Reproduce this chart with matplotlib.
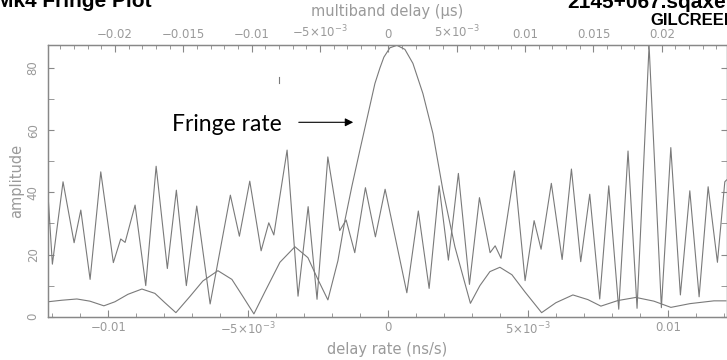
import numpy as np
import matplotlib
matplotlib.use("Agg")
from matplotlib import pyplot as plt
from matplotlib.ticker import MultipleLocator, FixedLocator
from matplotlib.lines import Line2D

plt.rcParams['font.family'] = ['DejaVu Sans']
plt.rcParams['mathtext.default'] = 'regular'

# multiband delay (us) vs amplitude (top axis)
delay_us = [-0.02489, -0.02458, -0.02380, -0.02299, -0.02250, -0.02182, -0.02104,
            -0.02012, -0.01958, -0.01926, -0.01853, -0.01775, -0.01699, -0.01617,
            -0.01551, -0.01478, -0.01402, -0.01304, -0.01156, -0.01090, -0.01014,
            -0.00931, -0.00875, -0.00838, -0.00741, -0.00661, -0.00587, -0.00522,
            -0.00443, -0.00356, -0.00309, -0.00246, -0.00168, -0.00095, -0.00024,
            0.00135, 0.00219, 0.00298, 0.00371, 0.00439, 0.00512, 0.00593, 0.00666,
            0.00744, 0.00781, 0.00824, 0.00922, 0.01000, 0.01066, 0.01117, 0.01192,
            0.01271, 0.01339, 0.01407, 0.01473, 0.01546, 0.01612, 0.01685, 0.01753,
            0.01819, 0.01907, 0.01997, 0.02066, 0.02136, 0.02205, 0.02273, 0.02339,
            0.02407, 0.02461, 0.02474]
delay_amp = [38.6, 16.9, 43.4, 23.8, 34.3, 12.0, 46.6,
             17.4, 25.0, 23.9, 35.9, 10.0, 48.4, 15.5,
             40.7, 10.0, 35.6, 4.1, 39.1, 25.9, 43.6,
             21.2, 30.2, 26.3, 53.6, 6.6, 35.4, 5.6,
             51.4, 27.7, 31.1, 20.6, 41.5, 25.7, 41.0,
             7.7, 34.0, 9.1, 42.1, 18.2, 46.1, 10.4, 38.3,
             20.6, 22.8, 18.8, 46.9, 11.6, 30.9, 21.7, 42.9,
             18.4, 47.5, 17.7, 39.4, 5.7, 42.1, 2.4, 53.3,
             2.7, 87.3, 2.9, 54.4, 7.0, 40.5, 6.4, 41.8,
             17.5, 43.4, 44.0]

# fringe rate: delay rate (ns/s) vs amplitude (bottom axis)
rate_ns = [-0.012154, -0.011654, -0.011118, -0.010654, -0.010154, -0.009761,
           -0.009296, -0.008796, -0.008332, -0.007975, -0.007582, -0.007082,
           -0.006618, -0.006082, -0.005582, -0.005189, -0.004796, -0.004404,
           -0.003868, -0.003332, -0.002868, -0.002511, -0.002154, -0.001796,
           -0.001546, -0.001296, -0.001011, -0.000725, -0.000475, -0.000296,
           -0.000154, 0.000061, 0.000311, 0.000596, 0.000882, 0.001239,
           0.001596, 0.001954, 0.002382, 0.002936, 0.003275, 0.003632,
           0.003989, 0.004418, 0.004882, 0.005479, 0.005989, 0.006596,
           0.007132, 0.007596, 0.008204, 0.008846, 0.009489, 0.010096,
           0.010775, 0.011632, 0.012061]
rate_amp = [4.8, 5.3, 5.7, 5.0, 3.5, 4.8,
            7.2, 8.9, 7.5, 4.5, 1.3, 6.5,
            11.5, 14.8, 12.0, 6.5, 0.9, 8.0,
            17.5, 22.5, 19.0, 12.0, 5.4, 18.0,
            31.0, 42.0, 53.6, 65.0, 75.0, 80.0,
            83.5, 86.5, 87.3, 86.0, 81.5, 71.8,
            59.0, 40.7, 22.5, 4.3, 10.0, 14.5,
            15.9, 13.5, 8.0, 1.3, 4.5, 7.0,
            5.5, 3.4, 5.2, 6.2, 5.0, 3.0,
            4.2, 5.1, 5.1]

rate_ticks = [-0.01, -0.005, 0, 0.005, 0.01]
rate_labels = ['\u22120.01', '\u22125\u00d710$^{\u22123}$', '0', '5\u00d710$^{\u22123}$', '0.01']
delay_ticks = [-0.02, -0.015, -0.01, -0.005, 0, 0.005, 0.01, 0.015, 0.02]
delay_labels = ['\u22120.02', '\u22120.015', '\u22120.01', '\u22125\u00d710$^{\u22123}$', '0',
                '5\u00d710$^{\u22123}$', '0.01', '0.015', '0.02']

GREY = '#9a9a9a'
LINE = '#7a7a7a'

fig = plt.figure(figsize=(7.27, 3.6), dpi=100)
ax = fig.add_axes([48 / 727, 1 - 316.7 / 360, 1 - 48 / 727, (316.7 - 44.7) / 360])
ax2 = ax.twiny()

ax.plot(rate_ns, rate_amp, color=LINE, lw=0.8)
ax2.plot(delay_us, delay_amp, color=LINE, lw=0.8)

ax.set_xlim(-0.01215, 0.01210)
ax2.set_xlim(-0.02490, 0.02477)
ax.set_ylim(0, 87.5)

ax.xaxis.set_major_locator(FixedLocator(rate_ticks))
ax.set_xticklabels(rate_labels)
ax.xaxis.set_minor_locator(MultipleLocator(0.001))
ax2.xaxis.set_major_locator(FixedLocator(delay_ticks))
ax2.set_xticklabels(delay_labels)
ax2.xaxis.set_minor_locator(MultipleLocator(0.001))
ax.yaxis.set_major_locator(MultipleLocator(20))
ax.yaxis.set_minor_locator(MultipleLocator(10))

for a in (ax, ax2):
    for s in a.spines.values():
        s.set_color('#888888')
        s.set_linewidth(0.9)
    a.tick_params(which='both', direction='in', color='#888888', labelcolor=GREY,
                  labelsize=8.5)
    a.tick_params(which='major', length=5)
    a.tick_params(which='minor', length=3)

ax.tick_params(axis='x', which='both', top=False, pad=3)
ax2.tick_params(axis='x', which='both', bottom=False, pad=3)
ax.tick_params(axis='y', which='both', left=True, right=True, length=4.5, pad=6)
plt.setp(ax.get_yticklabels(), rotation=90, va='center')

ax.set_xlabel('delay rate (ns/s)', color=GREY, fontsize=10.5, labelpad=3)
ax2.set_xlabel('multiband delay (\u03bcs)', color=GREY, fontsize=10.5, labelpad=6)
ax.set_ylabel('amplitude', color=GREY, fontsize=10.5, labelpad=2)

# annotation
fig.text(172 / 727, 1 - 131 / 360, 'Fringe rate', fontsize=16.5, family='Lato',
         va='baseline', ha='left', color='black')
ax.annotate('', xy=(356 / 727, 1 - 122.3 / 360), xytext=(296 / 727, 1 - 122.3 / 360),
            xycoords='figure fraction', textcoords='figure fraction',
            arrowprops=dict(arrowstyle='-|>', color='black', lw=0.8,
                            mutation_scale=12))
fig.add_artist(Line2D([278.7 / 727, 278.7 / 727], [1 - 77 / 360, 1 - 83 / 360],
                      color=LINE, lw=0.8))

# header text, cropped at top of image like the original
fig.text(-4 / 727, 1 - 7 / 360, 'Mk4 Fringe Plot', fontsize=15, fontweight='bold',
         family='Liberation Sans', va='baseline', ha='left')
fig.text(567 / 727, 1 - 7.5 / 360, '2145+067.sqaxe', fontsize=15, fontweight='bold',
         family='Liberation Sans', va='baseline', ha='left')
fig.text(650 / 727, 1 - 25 / 360, 'GILCREEK', fontsize=12, fontweight='bold',
         family='Liberation Sans', va='baseline', ha='left')

fig.savefig('out.png', dpi=100)
